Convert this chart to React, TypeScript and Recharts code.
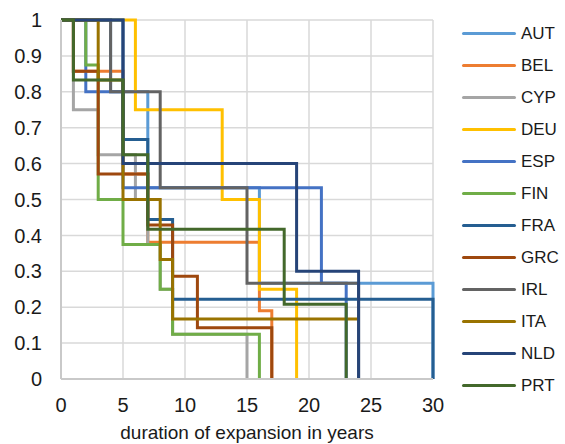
import React from "react";
import { LineChart, Line, XAxis, YAxis, CartesianGrid } from "recharts";

// step points: year at which the share of ongoing expansions changes, and the new share
const AUT_YEARS = [0, 4, 7, 16, 30];
const AUT_SHARE = [1, 0.8, 0.533, 0.267, 0];
const BEL_YEARS = [0, 1, 5, 7, 16, 17];
const BEL_SHARE = [1, 0.857, 0.571, 0.381, 0.19, 0];
const CYP_YEARS = [0, 1, 3, 6, 7, 8, 9, 15];
const CYP_SHARE = [1, 0.75, 0.625, 0.5, 0.375, 0.25, 0.125, 0];
const DEU_YEARS = [0, 6, 13, 16, 19];
const DEU_SHARE = [1, 0.75, 0.5, 0.25, 0];
const ESP_YEARS = [0, 2, 5, 21, 23];
const ESP_SHARE = [1, 0.8, 0.533, 0.267, 0];
const FIN_YEARS = [0, 2, 3, 5, 8, 9, 16];
const FIN_SHARE = [1, 0.875, 0.5, 0.375, 0.25, 0.125, 0];
const FRA_YEARS = [0, 5, 7, 9, 30];
const FRA_SHARE = [1, 0.667, 0.444, 0.222, 0];
const GRC_YEARS = [0, 1, 3, 7, 9, 11, 17];
const GRC_SHARE = [1, 0.857, 0.571, 0.429, 0.286, 0.143, 0];
const IRL_YEARS = [0, 4, 8, 15, 24];
const IRL_SHARE = [1, 0.8, 0.533, 0.267, 0];
const ITA_YEARS = [0, 3, 5, 8, 9, 24];
const ITA_SHARE = [1, 0.833, 0.5, 0.333, 0.167, 0.167];
const NLD_YEARS = [0, 5, 19, 24];
const NLD_SHARE = [1, 0.6, 0.3, 0];
const PRT_YEARS = [0, 1, 5, 7, 18, 23];
const PRT_SHARE = [1, 0.833, 0.625, 0.417, 0.208, 0];

const X_TICKS = [0, 5, 10, 15, 20, 25, 30];
const Y_TICKS = [0, 0.1, 0.2, 0.3, 0.4, 0.5, 0.6, 0.7, 0.8, 0.9, 1];

const build = (years: number[], share: number[]) => years.map((t, i) => ({ t, s: share[i] }));

const series = [
  { name: "AUT", color: "#5B9BD5", data: build(AUT_YEARS, AUT_SHARE) },
  { name: "BEL", color: "#ED7D31", data: build(BEL_YEARS, BEL_SHARE) },
  { name: "CYP", color: "#A5A5A5", data: build(CYP_YEARS, CYP_SHARE) },
  { name: "DEU", color: "#FFC000", data: build(DEU_YEARS, DEU_SHARE) },
  { name: "ESP", color: "#4472C4", data: build(ESP_YEARS, ESP_SHARE) },
  { name: "FIN", color: "#70AD47", data: build(FIN_YEARS, FIN_SHARE) },
  { name: "FRA", color: "#255E91", data: build(FRA_YEARS, FRA_SHARE) },
  { name: "GRC", color: "#9E480E", data: build(GRC_YEARS, GRC_SHARE) },
  { name: "IRL", color: "#636363", data: build(IRL_YEARS, IRL_SHARE) },
  { name: "ITA", color: "#997300", data: build(ITA_YEARS, ITA_SHARE) },
  { name: "NLD", color: "#264478", data: build(NLD_YEARS, NLD_SHARE) },
  { name: "PRT", color: "#43682B", data: build(PRT_YEARS, PRT_SHARE) },
];

const font = "'Liberation Sans', Arial, sans-serif";

export default function App() {
  return (
    <div style={{ position: "absolute", left: 0, top: 0, width: 565, height: 444, fontFamily: font, background: "#fff" }}>
      <LineChart width={565} height={444} margin={{ top: 20, right: 132, bottom: 0, left: 0 }}>
        <CartesianGrid stroke="#D9D9D9" strokeWidth={1.5} />
        <XAxis
          type="number"
          dataKey="t"
          domain={[0, 30]}
          ticks={X_TICKS}
          interval={0}
          height={65}
          tickLine={false}
          tickSize={0}
          tickMargin={19}
          axisLine={{ stroke: "#C9C9C9", strokeWidth: 2 }}
          tick={{ fontSize: 20, fill: "#1a1a1a", fontFamily: font }}
          label={{ value: "duration of expansion in years", position: "insideBottom", offset: 5, fontSize: 19, fill: "#1a1a1a", fontFamily: font }}
        />
        <YAxis
          type="number"
          domain={[0, 1]}
          ticks={Y_TICKS}
          interval={0}
          width={61}
          tickLine={false}
          tickSize={0}
          tickMargin={19}
          axisLine={{ stroke: "#C9C9C9", strokeWidth: 2 }}
          tick={{ fontSize: 20, fill: "#1a1a1a", fontFamily: font }}
        />
        {series.map((s) => (
          <Line
            key={s.name}
            data={s.data}
            dataKey="s"
            name={s.name}
            type="stepAfter"
            stroke={s.color}
            strokeWidth={3}
            dot={false}
            activeDot={false}
            isAnimationActive={false}
          />
        ))}
      </LineChart>
      {series.map((s, i) => {
        const cy = 33.3 + 32 * i;
        return (
          <React.Fragment key={s.name}>
            <div style={{ position: "absolute", left: 462, top: cy - 1.5, width: 54, height: 3, background: s.color, borderRadius: 1.5 }} />
            <div style={{ position: "absolute", left: 521, top: cy - 8.5, fontSize: 17, lineHeight: "17px", color: "#1a1a1a" }}>{s.name}</div>
          </React.Fragment>
        );
      })}
    </div>
  );
}
